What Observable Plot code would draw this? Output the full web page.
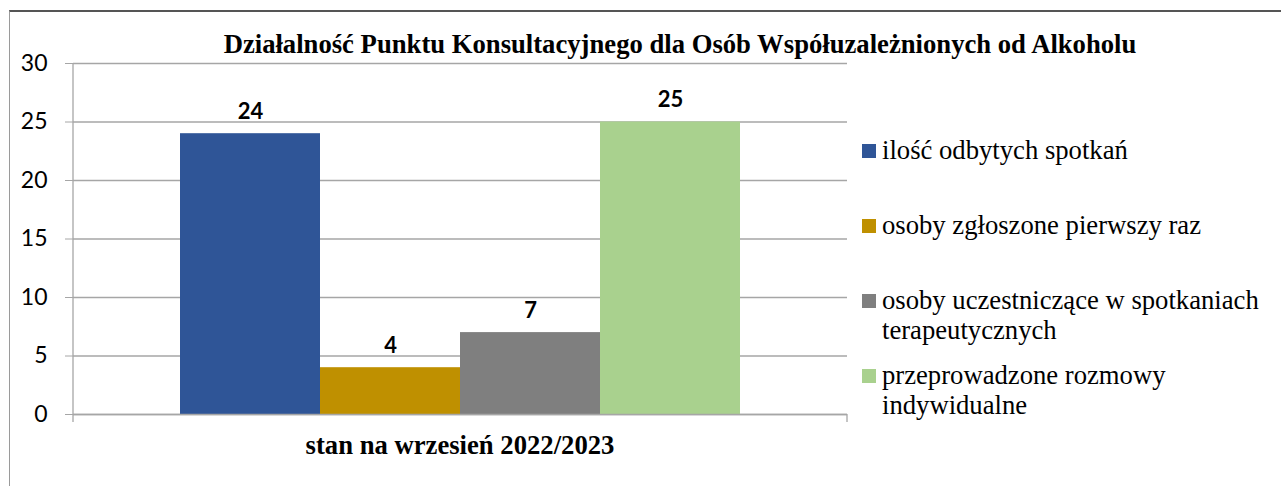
<!DOCTYPE html>
<html>
<head>
<meta charset="utf-8">
<script src="https://cdn.jsdelivr.net/npm/d3@7"></script>
<script src="https://cdn.jsdelivr.net/npm/@observablehq/plot@0.6"></script>
<style>
  html, body { margin: 0; padding: 0; background: #fff; overflow: hidden; }
  #wrap { position: relative; width: 1281px; height: 486px; }
  #frame { position: absolute; left: 9px; top: 10px; width: 2000px; height: 1000px;
           border-top: 2px solid #555; border-left: 1.5px solid #9a9a9a; pointer-events: none; }
  #chart svg { display: block; }
  .serif { font-family: "Liberation Serif", "Times New Roman", serif; font-size: 26.67px; color: #000; }
  #title { position: absolute; left: 180px; width: 1000px; top: 29px; line-height: 30px;
           text-align: center; font-weight: bold; white-space: nowrap; }
  #xlabel { position: absolute; left: 73px; width: 774px; top: 430px; line-height: 30px;
            text-align: center; font-weight: bold; white-space: nowrap; }
  #legend { position: absolute; left: 862px; top: 135px; width: 420px; }
  .item { height: 75px; display: flex; align-items: flex-start; }
  .sw { width: 14px; height: 14px; margin-top: 9px; margin-right: 6px; flex: none; }
  .lab { width: 395px; line-height: 30px; }
</style>
</head>
<body>
<div id="wrap">
  <div id="chart"></div>
  <div id="frame"></div>
  <div id="title" class="serif"></div>
  <div id="xlabel" class="serif"></div>
  <div id="legend" class="serif"></div>
</div>
<script>
const title = "Działalność Punktu Konsultacyjnego dla Osób Współuzależnionych od Alkoholu";
const category = "stan na wrzesień 2022/2023";
const series = [
  "ilość odbytych spotkań",
  "osoby zgłoszone pierwszy raz",
  "osoby uczestniczące w spotkaniach terapeutycznych",
  "przeprowadzone rozmowy indywidualne"
];
const values = [24, 4, 7, 25];
const colors = ["#2F5597", "#BF9000", "#7F7F7F", "#A9D18E"];
const yTicks = [0, 5, 10, 15, 20, 25, 30];

const data = series.map((s, i) => ({series: s, value: values[i]}));
const axisColor = "#a6a6a6";

// axis lines with end ticks, derived from scales
function axisLines(index, scales, values, dims) {
  const g = d3.create("svg:g").attr("stroke", axisColor).attr("stroke-width", 1.3).attr("fill", "none");
  const x0 = dims.marginLeft, x1 = dims.width - dims.marginRight;
  const yTop = scales.y(30), yBot = scales.y(0);
  g.append("line").attr("x1", x0).attr("x2", x0).attr("y1", yTop).attr("y2", yBot + 8);
  g.append("line").attr("x1", x1).attr("x2", x1).attr("y1", yBot).attr("y2", yBot + 8);
  return g.node();
}

const chart = Plot.plot({
  width: 1281,
  height: 486,
  marginLeft: 73,
  marginRight: 434,
  marginTop: 63,
  marginBottom: 72,
  style: {fontFamily: "Lato, sans-serif", fontSize: "23px", background: "transparent", overflow: "visible"},
  x: {domain: series, paddingInner: 0, paddingOuter: 0.754, axis: null},
  y: {domain: [0, 30], axis: null, label: null},
  color: {domain: series, range: colors},
  marks: [
    Plot.gridY(yTicks, {stroke: axisColor, strokeOpacity: 1, strokeWidth: 1.3}),
    Plot.axisY(yTicks, {tickSize: 8, tickPadding: 18, stroke: axisColor, fill: "#000", tickFormat: d => d,
                        fontSize: 23, label: null}),
    Plot.barY(data, {x: "series", y: "value", fill: "series"}),
    Plot.ruleY([0], {stroke: axisColor, strokeWidth: 1.3}),
    axisLines,
    Plot.text(data, {x: "series", y: "value", text: d => String(d.value), lineAnchor: "bottom", dy: -15,
                     fontWeight: "bold", fontSize: 22, fill: "#000"})
  ]
});
document.getElementById("chart").appendChild(chart);

document.getElementById("title").textContent = title;
document.getElementById("xlabel").textContent = category;
const legend = document.getElementById("legend");
series.forEach((s, i) => {
  const item = document.createElement("div");
  item.className = "item";
  const sw = document.createElement("div");
  sw.className = "sw";
  sw.style.background = colors[i];
  const lab = document.createElement("div");
  lab.className = "lab";
  lab.textContent = s;
  item.appendChild(sw);
  item.appendChild(lab);
  legend.appendChild(item);
});
</script>
</body>
</html>
